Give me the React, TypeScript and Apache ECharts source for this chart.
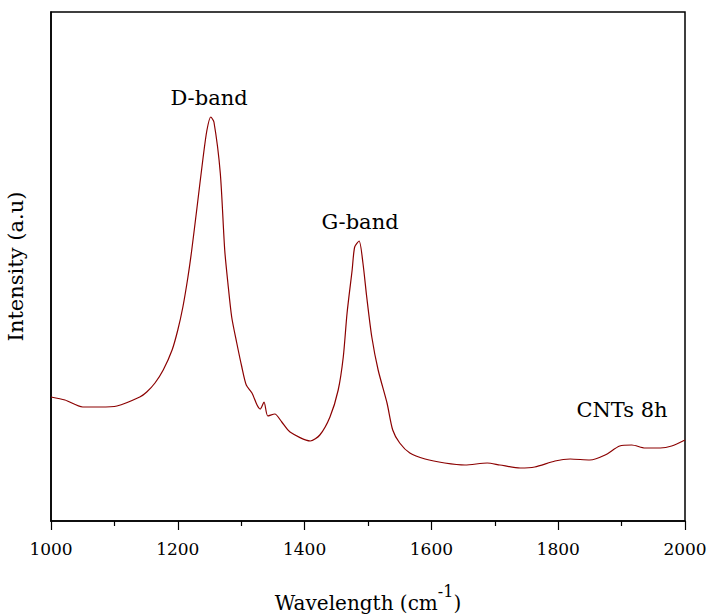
import React, { useEffect, useRef } from "react";
import * as echarts from "echarts";

const wavenumbers = [
  1000, 1022, 1050, 1077, 1104, 1140, 1151, 1164, 1177, 1191, 1200, 1208, 1216, 1222, 1230, 1240,
  1246, 1252, 1257, 1267, 1274, 1279, 1285, 1293, 1301, 1308, 1317, 1325, 1330, 1336, 1342, 1353,
  1364, 1377, 1409, 1424, 1440, 1453, 1461, 1467, 1475, 1479, 1486, 1492, 1498, 1506, 1516, 1530,
  1539, 1550, 1566, 1590, 1621, 1653, 1688, 1708, 1740, 1763, 1795, 1819, 1850, 1874, 1897, 1916,
  1937, 1961, 1979, 2000,
];
const intensity = [
  124, 121, 114, 114, 115, 124, 129, 138, 151, 171, 191, 214, 244, 271, 312, 364,
  391, 404, 399, 348, 271, 238, 204, 178, 154, 136, 128, 116, 112, 119, 105, 107,
  99, 89, 80, 86, 104, 131, 164, 208, 251, 274, 280, 258, 224, 184, 151, 118,
  91, 78, 68, 62, 58, 56, 58, 56, 53, 54, 60, 62, 61, 66, 75, 76,
  73, 73, 75, 81,
];
const xTicks = { min: 1000, max: 2000, interval: 200 };
const annotations = ["D-band", "G-band", "CNTs 8h"];

const FONT = "DejaVu Serif";

export default function App() {
  const ref = useRef<HTMLDivElement>(null);
  useEffect(() => {
    if (!ref.current) return;
    const chart = echarts.init(ref.current, null, { renderer: "svg" });
    const data = wavenumbers.map((w, i) => [w, intensity[i]]);
    const textStyle = (t: string) => ({
      text: t,
      fontSize: 21,
      fontFamily: FONT,
      fill: "#000",
      align: "center",
      verticalAlign: "middle",
    });
    chart.setOption({
      animation: false,
      backgroundColor: "#fff",
      grid: {
        left: 51,
        right: 22,
        top: 12,
        bottom: 95,
        show: true,
        borderColor: "#000",
        borderWidth: 1.5,
        containLabel: false,
        outerBoundsMode: "none",
      },
      xAxis: {
        type: "value",
        min: xTicks.min,
        max: xTicks.max,
        interval: xTicks.interval,
        axisLine: { show: true, lineStyle: { color: "#000", width: 1.5 } },
        axisTick: { show: true, length: 9, lineStyle: { color: "#000", width: 1.2 } },
        minorTick: { show: true, splitNumber: 2, length: 5, lineStyle: { color: "#000", width: 1.2 } },
        splitLine: { show: false },
        minorSplitLine: { show: false },
        axisLabel: {
          color: "#000",
          fontSize: 17,
          fontFamily: FONT,
          margin: 19,
          formatter: (v: number) => String(v),
        },
        name: "{a|Wavelength (cm}{s|-1}{a|)}",
        nameLocation: "middle",
        nameGap: 62,
        nameTextStyle: {
          fontFamily: FONT,
          rich: {
            a: { fontSize: 20, fontFamily: FONT, color: "#000", lineHeight: 30, verticalAlign: "bottom" },
            s: { fontSize: 16, fontFamily: FONT, color: "#000", lineHeight: 16, verticalAlign: "top" },
          },
        },
      },
      yAxis: {
        type: "value",
        min: 0,
        max: 509,
        axisLine: { show: true, lineStyle: { color: "#000", width: 1.5 } },
        axisTick: { show: false },
        axisLabel: { show: false },
        splitLine: { show: false },
        name: "Intensity (a.u)",
        nameLocation: "middle",
        nameGap: 25,
        nameTextStyle: { fontSize: 21, fontFamily: FONT, color: "#000" },
      },
      series: [
        {
          type: "line",
          data,
          symbol: "none",
          smooth: 0.25,
          lineStyle: { color: "#8B0000", width: 1.2 },
          z: 3,
        },
      ],
      graphic: [
        { type: "text", x: 209, y: 98, style: textStyle(annotations[0]) },
        { type: "text", x: 360, y: 222, style: textStyle(annotations[1]) },
        { type: "text", x: 622, y: 410, style: textStyle(annotations[2]) },
      ],
    });
    return () => chart.dispose();
  }, []);
  return <div ref={ref} style={{ width: 707, height: 616, position: "fixed", left: 0, top: 0 }} />;
}
